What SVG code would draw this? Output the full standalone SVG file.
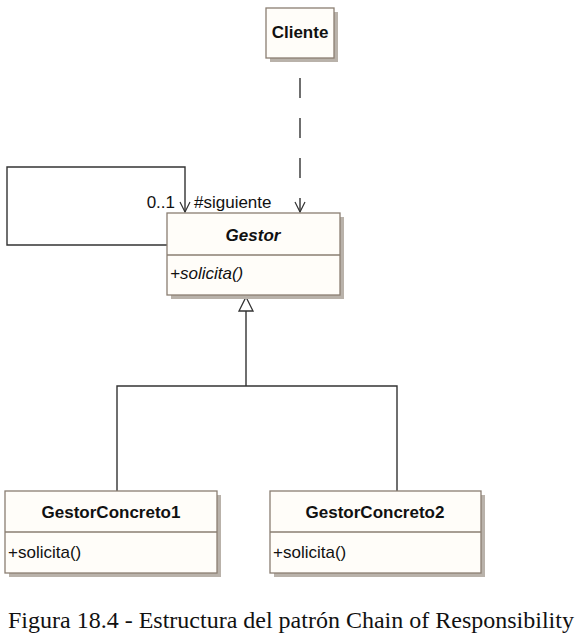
<svg xmlns="http://www.w3.org/2000/svg" width="575" height="642" viewBox="0 0 575 642">
<style>
.box{fill:#fffdf9;stroke:#8a7e72;stroke-width:1.3}
.shadow{fill:#b9b2aa}
.div{stroke:#8a7e72;stroke-width:1.3}
.t{font-family:"Liberation Sans",Arial,sans-serif;font-size:17px;fill:#111}
.b{font-weight:bold}
.i{font-style:italic}
.ln{fill:none;stroke:#333;stroke-width:1.4}
</style>
<defs>
<marker id="open" markerWidth="12" markerHeight="12" refX="11" refY="6" orient="auto" markerUnits="userSpaceOnUse" viewBox="0 0 12 12">
<path d="M1,1 L11,6 L1,11" fill="none" stroke="#333" stroke-width="1.2"/>
</marker>
</defs>
<rect width="575" height="642" fill="#fff"/>
<g id="connectors">
<path class="ln" d="M300,78 V212" stroke-dasharray="20,20" marker-end="url(#open)"/>
<path class="ln" d="M167,245 H7 V167 H185 V212" marker-end="url(#open)"/>
<text class="t" x="175" y="208" text-anchor="end">0..1</text>
<text class="t" x="194" y="208">#siguiente</text>
<path class="ln" d="M246,311 V386 M117,491 V386 H397 V491"/>
<path d="M246,297 L253,311 L239,311 Z" fill="#fff" stroke="#333" stroke-width="1.3"/>
</g>
<g id="Cliente">
<rect class="shadow" x="270" y="12" width="68" height="50"/>
<rect class="box" x="266" y="8" width="68" height="50"/>
<text class="t b" x="300" y="38" text-anchor="middle">Cliente</text>
</g>
<g id="Gestor">
<rect class="shadow" x="171" y="217" width="173" height="82"/>
<rect class="box" x="167" y="213" width="173" height="82"/>
<line class="div" x1="167" y1="255" x2="340" y2="255"/>
<text class="t b i" x="253" y="241" text-anchor="middle">Gestor</text>
<text class="t i" x="170" y="279">+solicita()</text>
</g>
<g id="GestorConcreto1">
<rect class="shadow" x="9" y="495" width="212" height="82"/>
<rect class="box" x="5" y="491" width="212" height="82"/>
<line class="div" x1="5" y1="532" x2="217" y2="532"/>
<text class="t b" x="111" y="518" text-anchor="middle">GestorConcreto1</text>
<text class="t" x="8" y="558">+solicita()</text>
</g>
<g id="GestorConcreto2">
<rect class="shadow" x="274" y="495" width="211" height="82"/>
<rect class="box" x="270" y="491" width="211" height="82"/>
<line class="div" x1="270" y1="532" x2="481" y2="532"/>
<text class="t b" x="375" y="518" text-anchor="middle">GestorConcreto2</text>
<text class="t" x="273" y="558">+solicita()</text>
</g>
<text x="8" y="628" font-family="'Liberation Serif','Times New Roman',serif" font-size="24" fill="#111">Figura 18.4 - Estructura del patrón Chain of Responsibility</text>
</svg>
